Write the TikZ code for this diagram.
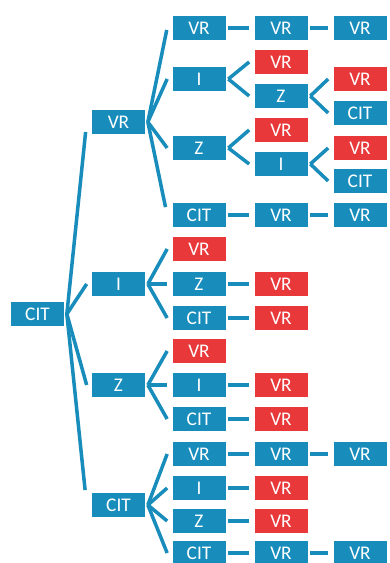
\documentclass[tikz,border=0pt]{standalone}
\usepackage{fontspec}
\setmainfont{Carlito}
\usepackage{xcolor}
\usepackage{tikz}
\usetikzlibrary{arrows.meta, positioning, calc}

\definecolor{treeblue}{RGB}{24,141,188}
\definecolor{treered}{RGB}{232,56,58}

\begin{document}
\begin{tikzpicture}[
        x=0.02cm, y=-0.02cm,
        box/.style={rectangle, fill=treeblue, text=white, inner sep=0pt,
            minimum width=1.06cm, minimum height=0.48cm,
            font=\fontsize{11}{13}\selectfont},
        hit/.style={box, fill=treered},
        fan/.style={draw=treeblue, line width=2pt, shorten >=#1},
        fan/.default=0cm,
        link/.style={draw=treeblue, line width=2.3pt,
            shorten <=0.05cm, shorten >=0.1cm},
    ]
        \useasboundingbox (0,0) rectangle (389,563);

        % root
        \node[box] (r) at (37.5,314) {CIT};

        % first level
        \node[box] (v1) at (118.5,122) {VR};
        \node[box] (v2) at (118.5,284) {I};
        \node[box] (v3) at (118.5,385) {Z};
        \node[box] (v4) at (118.5,505) {CIT};

        % second level
        \node[box] (w1) at (199,28) {VR};
        \node[box] (w2) at (199,79) {I};
        \node[box] (w3) at (199,148) {Z};
        \node[box] (w4) at (199,215) {CIT};
        \node[hit] (w5) at (199,249) {VR};
        \node[box] (w6) at (199,284) {Z};
        \node[box] (w7) at (199,318) {CIT};
        \node[hit] (w8) at (199,351) {VR};
        \node[box] (w9) at (199,385) {I};
        \node[box] (w10) at (199,419) {CIT};
        \node[box] (w11) at (199,454) {VR};
        \node[box] (w12) at (199,488) {I};
        \node[box] (w13) at (199,521) {Z};
        \node[box] (w14) at (199,553) {CIT};

        % third level
        \node[box] (x1) at (281,28) {VR};
        \node[hit] (x2) at (281,62) {VR};
        \node[box] (x3) at (281,96) {Z};
        \node[hit] (x4) at (281,130) {VR};
        \node[box] (x5) at (281,164) {I};
        \node[box] (x6) at (281,215) {VR};
        \node[hit] (x7) at (281,284) {VR};
        \node[hit] (x8) at (281,318) {VR};
        \node[hit] (x9) at (281,385) {VR};
        \node[hit] (x10) at (281,419) {VR};
        \node[box] (x11) at (281,454) {VR};
        \node[hit] (x12) at (281,488) {VR};
        \node[hit] (x13) at (281,521) {VR};
        \node[box] (x14) at (281,553) {VR};

        % fourth level
        \node[box] (y1) at (360,28) {VR};
        \node[hit] (y2) at (360,79) {VR};
        \node[box] (y3) at (360,113) {CIT};
        \node[hit] (y4) at (360,148) {VR};
        \node[box] (y5) at (360,181) {CIT};
        \node[box] (y6) at (360,215) {VR};
        \node[box] (y7) at (360,454) {VR};
        \node[box] (y8) at (360,553) {VR};

        % branching connectors
        \foreach \p/\c/\s in {r/v1/0.2cm, r/v2/0cm, r/v3/0cm, r/v4/0.3cm,
                v1/w1/0.04cm, v1/w2/0cm, v1/w3/0cm, v1/w4/0.16cm,
                w2/x2/0cm, w2/x3/0cm, x3/y2/0cm, x3/y3/0cm,
                w3/x4/0cm, w3/x5/0cm, x5/y4/0cm, x5/y5/0cm,
                v2/w5/0cm, v2/w6/0cm, v2/w7/0cm,
                v3/w8/0cm, v3/w9/0cm, v3/w10/0cm,
                v4/w11/0cm, v4/w12/0cm, v4/w13/0cm, v4/w14/0cm}
            \path[fan=\s] ([xshift=0.05cm]\p.east) -- ([xshift=-0.1cm]\c.west);

        % straight connectors
        \foreach \i/\j in {w1/x1, x1/y1, w4/x6, x6/y6, w6/x7, w7/x8,
                w9/x9, w10/x10, w11/x11, x11/y7, w12/x12, w13/x13,
                w14/x14, x14/y8}
            \path[link] (\i) -- (\j);
    \end{tikzpicture}
\end{document}
